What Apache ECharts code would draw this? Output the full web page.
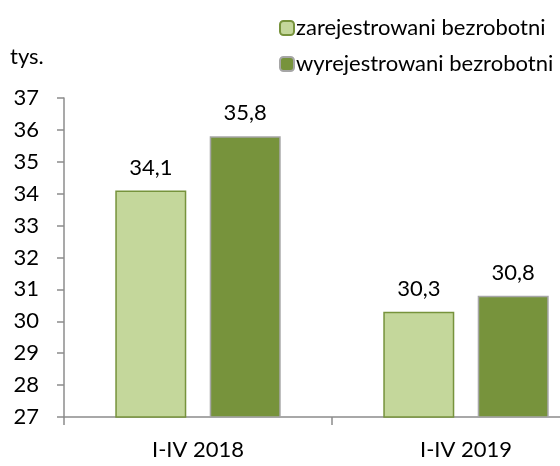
<!DOCTYPE html>
<html>
<head>
<meta charset="utf-8">
<script src="https://cdn.jsdelivr.net/npm/echarts@6/dist/echarts.min.js"></script>
<style>html,body{margin:0;padding:0;background:#fff}#c{width:560px;height:466px}</style>
</head>
<body>
<div id="c"></div>
<script>
const categories = ['I-IV 2018', 'I-IV 2019'];
const seriesNames = ['zarejestrowani bezrobotni', 'wyrejestrowani bezrobotni'];
const registered = [34.1, 30.3];
const deregistered = [35.8, 30.8];
const unitLabel = 'tys.';

const FONT = 'Lato';
const FS = 22;
const chart = echarts.init(document.getElementById('c'), null, {renderer: 'canvas'});
const fmt = p => String(p.value).replace('.', ',');
chart.setOption({
  animation: false,
  textStyle: {fontFamily: FONT},
  graphic: [{type: 'text', left: 10, top: 46, style: {text: unitLabel, font: FS + 'px ' + FONT, fill: '#000'}}],
  legend: {
    orient: 'vertical', left: 274, top: 12, itemWidth: 14, itemHeight: 14, itemGap: 14,
    textStyle: {fontSize: FS, fontFamily: FONT, color: '#000', padding: [0,0,0,-3]},
    data: seriesNames
  },
  grid: {left: 64, top: 98, width: 536, bottom: 49, containLabel: false, outerBoundsMode: 'none'},
  xAxis: {
    type: 'category', data: categories,
    axisLine: {lineStyle: {color: '#8c8c8c', width: 1.5}},
    axisTick: {show: true, length: 8, lineStyle: {color: '#8c8c8c', width: 1.5}},
    axisLabel: {fontSize: FS, fontFamily: FONT, color: '#000', margin: 22}
  },
  yAxis: {
    type: 'value', min: 27, max: 37, interval: 1,
    axisLine: {show: true, lineStyle: {color: '#8c8c8c', width: 1.5}},
    axisTick: {show: true, length: 7, lineStyle: {color: '#8c8c8c', width: 1.5}},
    splitLine: {show: false},
    axisLabel: {fontSize: FS, fontFamily: FONT, color: '#000', margin: 25}
  },
  series: [
    {name: seriesNames[0], type: 'bar', data: registered, barWidth: 71, barGap: '33%',
     itemStyle: {color: '#c4d79b', borderColor: '#77933c', borderWidth: 1.5},
     label: {show: true, position: 'top', distance: 12, fontSize: FS, fontFamily: FONT, color: '#000', formatter: fmt}},
    {name: seriesNames[1], type: 'bar', data: deregistered, barWidth: 71,
     itemStyle: {color: '#77933c', borderColor: '#a6a6a6', borderWidth: 1.5},
     label: {show: true, position: 'top', distance: 12, fontSize: FS, fontFamily: FONT, color: '#000', formatter: fmt}}
  ]
});
</script>
</body>
</html>
